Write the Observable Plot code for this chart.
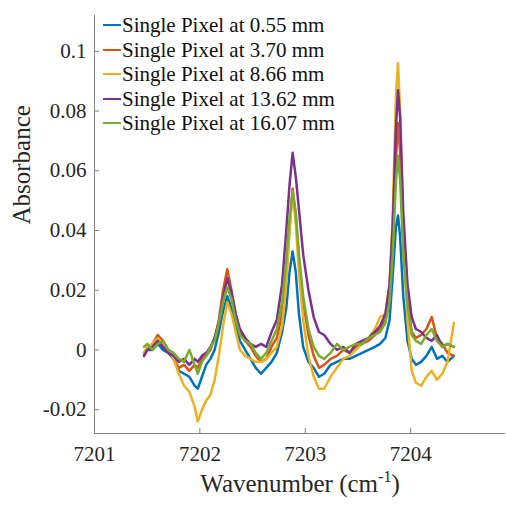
<!DOCTYPE html>
<html>
<head>
<meta charset="utf-8">
<script src="https://cdn.jsdelivr.net/npm/d3@7"></script>
<script src="https://cdn.jsdelivr.net/npm/@observablehq/plot@0.6"></script>
<style>
  html, body { margin: 0; padding: 0; background: #fff; }
  #wrap { position: relative; width: 506px; height: 506px; }
  #legend { position: absolute; left: 103px; top: 13px; font-family: 'Liberation Serif', 'Times New Roman', serif; font-size: 21px; color: #111; }
  .row { height: 24.5px; line-height: 24.5px; white-space: nowrap; display: flex; align-items: center; }
  .sw { display: inline-block; width: 18px; height: 2px; margin-right: 1px; }
</style>
</head>
<body>
<div id="wrap"><div id="legend"></div></div>
<script>
// ---- data ----
const seriesNames = ["Single Pixel at 0.55 mm", "Single Pixel at 3.70 mm", "Single Pixel at 8.66 mm", "Single Pixel at 13.62 mm", "Single Pixel at 16.07 mm"];
const seriesColors = ["#0072BD", "#D95319", "#EDB120", "#7E2F8E", "#77AC30"];

const wavenumber = [7201.47, 7201.50, 7201.55, 7201.60, 7201.65, 7201.70, 7201.75, 7201.80, 7201.85, 7201.90,
  7201.95, 7201.98, 7202.02, 7202.06, 7202.10, 7202.14, 7202.18, 7202.22, 7202.26, 7202.30,
  7202.34, 7202.38, 7202.43, 7202.48, 7202.53, 7202.58, 7202.63, 7202.68, 7202.73, 7202.78,
  7202.82, 7202.85, 7202.88, 7202.91, 7202.94, 7202.98, 7203.03, 7203.08, 7203.13, 7203.18,
  7203.24, 7203.30, 7203.36, 7203.42, 7203.48, 7203.54, 7203.60, 7203.66, 7203.71, 7203.76,
  7203.80, 7203.83, 7203.86, 7203.88, 7203.90, 7203.93, 7203.97, 7204.01, 7204.05, 7204.10,
  7204.15, 7204.20, 7204.25, 7204.30, 7204.35, 7204.41];

const abs055 = [-0.001, 0.000, 0.000, 0.002, 0.000, -0.001, -0.003, -0.007, -0.008, -0.009,
  -0.012, -0.013, -0.009, -0.005, -0.003, 0.000, 0.006, 0.013, 0.018, 0.014,
  0.008, 0.003, 0.000, -0.003, -0.006, -0.008, -0.006, -0.004, -0.001, 0.006,
  0.014, 0.026, 0.033, 0.026, 0.012, 0.001, -0.004, -0.006, -0.009, -0.008,
  -0.005, -0.004, -0.003, -0.003, -0.002, -0.001, 0.000, 0.001, 0.002, 0.004,
  0.010, 0.025, 0.041, 0.045, 0.038, 0.018, 0.003, -0.003, -0.005, -0.004,
  -0.002, 0.001, -0.003, -0.002, -0.004, -0.002];

const abs370 = [-0.002, 0.000, 0.002, 0.005, 0.003, 0.000, -0.003, -0.006, -0.005, -0.007,
  -0.005, -0.006, -0.003, -0.002, 0.000, 0.004, 0.010, 0.020, 0.027, 0.020,
  0.012, 0.006, 0.003, 0.001, -0.002, -0.004, -0.003, 0.001, 0.004, 0.012,
  0.025, 0.040, 0.054, 0.045, 0.030, 0.016, 0.005, -0.002, -0.006, -0.005,
  -0.003, -0.002, 0.000, -0.001, 0.001, 0.002, 0.003, 0.005, 0.007, 0.010,
  0.018, 0.036, 0.064, 0.076, 0.066, 0.038, 0.017, 0.006, 0.004, 0.005,
  0.007, 0.011, 0.004, 0.002, -0.001, -0.002];

const abs866 = [-0.001, 0.001, 0.002, 0.004, 0.002, 0.000, -0.003, -0.008, -0.012, -0.014,
  -0.019, -0.024, -0.020, -0.017, -0.015, -0.010, -0.002, 0.008, 0.016, 0.012,
  0.006, 0.000, -0.002, -0.003, -0.004, -0.004, -0.003, -0.001, 0.001, 0.008,
  0.022, 0.040, 0.053, 0.042, 0.026, 0.010, -0.002, -0.009, -0.013, -0.013,
  -0.009, -0.006, -0.003, -0.002, 0.000, 0.002, 0.004, 0.007, 0.011, 0.012,
  0.022, 0.045, 0.085, 0.096, 0.080, 0.038, 0.010, -0.007, -0.011, -0.012,
  -0.009, -0.007, -0.010, -0.008, -0.004, 0.009];

const abs1362 = [-0.002, 0.000, 0.001, 0.003, 0.001, -0.001, -0.002, -0.004, -0.003, -0.005,
  -0.003, -0.004, -0.002, -0.001, 0.001, 0.004, 0.009, 0.017, 0.024, 0.019,
  0.012, 0.007, 0.004, 0.002, 0.001, 0.002, 0.001, 0.006, 0.010, 0.022,
  0.040, 0.055, 0.066, 0.058, 0.047, 0.032, 0.020, 0.011, 0.006, 0.005,
  0.002, 0.000, 0.001, -0.001, 0.002, 0.003, 0.004, 0.006, 0.008, 0.012,
  0.022, 0.042, 0.074, 0.087, 0.078, 0.046, 0.022, 0.011, 0.007, 0.006,
  0.004, 0.003, 0.005, 0.001, 0.002, 0.001];

const abs1607 = [0.001, 0.002, 0.000, 0.002, 0.003, 0.000, -0.001, -0.003, -0.004, 0.000,
  -0.005, -0.008, -0.004, -0.002, 0.001, 0.003, 0.009, 0.016, 0.021, 0.017,
  0.010, 0.005, 0.003, 0.002, -0.001, -0.003, -0.001, 0.003, 0.007, 0.016,
  0.030, 0.044, 0.053, 0.046, 0.032, 0.018, 0.007, 0.001, -0.002, -0.003,
  -0.001, 0.002, 0.000, 0.001, 0.002, 0.002, 0.004, 0.005, 0.006, 0.009,
  0.016, 0.032, 0.056, 0.065, 0.057, 0.032, 0.015, 0.005, 0.003, 0.002,
  0.005, 0.007, 0.003, 0.001, 0.002, 0.001];

const xTicks = [7201, 7202, 7203, 7204];
const yTicks = [-0.02, 0, 0.02, 0.04, 0.06, 0.08, 0.1];
const xDomain = [7201, 7204.9];
const yDomain = [-0.028, 0.112];
const xLabel = "Wavenumber (cm-1)";
const yLabel = "Absorbance";

// ---- build table ----
const seriesValues = [abs055, abs370, abs866, abs1362, abs1607];
const rows = [];
seriesValues.forEach((vals, i) => {
  vals.forEach((v, j) => rows.push({series: seriesNames[i], x: wavenumber[j], y: v}));
});

const W = 506, H = 506, mL = 94, mR = 1, mT = 15, mB = 73;
const serif = "'Liberation Serif', 'Times New Roman', serif";
const txt = "#262626", axisCol = "#808080";

const chart = Plot.plot({
  width: W, height: H,
  marginLeft: mL, marginRight: mR, marginTop: mT, marginBottom: mB,
  style: {fontFamily: serif, background: "#fff", overflow: "visible"},
  x: {domain: xDomain, ticks: xTicks},
  y: {domain: yDomain, ticks: yTicks},
  color: {domain: seriesNames, range: seriesColors},
  marks: [
    Plot.line(rows, {x: "x", y: "y", stroke: "series", z: "series", strokeWidth: 2.5, strokeLinejoin: "round"}),
    Plot.ruleX([xDomain[0]], {stroke: axisCol, strokeWidth: 1}),
    Plot.ruleY([yDomain[0]], {stroke: axisCol, strokeWidth: 1}),
    Plot.tickX(xTicks, {x: d => d, stroke: axisCol, insetTop: (H - mT - mB) - 5}),
    Plot.tickY(yTicks, {y: d => d, stroke: axisCol, insetRight: (W - mL - mR) - 5}),
    Plot.axisX({ticks: xTicks, tickSize: 0, tickPadding: 13, tickFormat: d => String(d), fontSize: 21, fontFamily: serif, fill: txt, label: null}),
    Plot.axisY({ticks: yTicks, tickSize: 0, tickPadding: 8, tickFormat: d => String(+d.toFixed(2)), fontSize: 21, fontFamily: serif, fill: txt, label: null}),
    Plot.text([yLabel], {frameAnchor: "left", text: d => d, rotate: -90, dx: -73, fontSize: 25, fontFamily: serif, fill: txt}),
    Plot.text([xLabel], {frameAnchor: "bottom", text: d => d, dy: 58, lineAnchor: "bottom", fontSize: 25, fontFamily: serif, fill: txt})
  ]
});

document.getElementById("wrap").prepend(chart);

// superscript for cm^-1
d3.select(chart).selectAll("text").each(function() {
  if (this.textContent === xLabel) {
    this.innerHTML = 'Wavenumber (cm<tspan dy="-10" font-size="16">-1</tspan><tspan dy="10">)</tspan>';
  }
});

// legend
const leg = d3.select("#legend");
seriesNames.forEach((n, i) => {
  const r = leg.append("div").attr("class", "row");
  r.append("span").attr("class", "sw").style("background", seriesColors[i]);
  r.append("span").text(n);
});
</script>
</body>
</html>
